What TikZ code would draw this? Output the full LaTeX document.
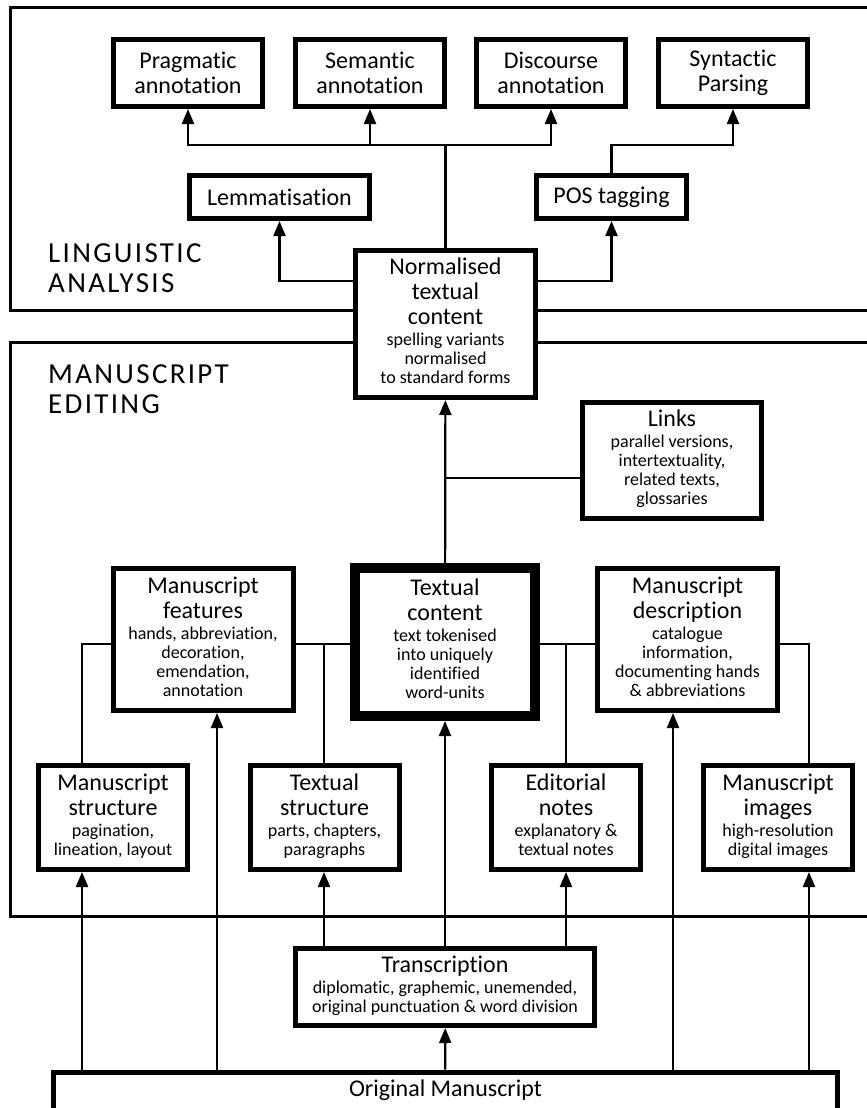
\documentclass[tikz,border=0pt]{standalone}
\usepackage{fontspec}
\setmainfont{Carlito}[Ligatures=NoCommon]
\usetikzlibrary{arrows.meta,positioning}
\newcommand{\detail}[1]{{\fontsize{18}{19}\selectfont
  \begin{tabular}[t]{@{}c@{}}#1\end{tabular}}}

\begin{document}
\begin{tikzpicture}[x=1pt, y=-1pt,
  font=\fontsize{24}{25}\selectfont,
  box/.style = {draw, line width=5pt, fill=white, align=center, inner sep=0pt},
  core/.style = {box, line width=10pt},
  topbox/.style = {box, minimum width=149, minimum height=67},
  lowbox/.style = {box, minimum width=149, minimum height=104},
  midbox/.style = {box, minimum width=180, minimum height=142},
  frame/.style = {line width=3pt},
  title/.style = {align=left, anchor=west, inner sep=0pt,
        font=\fontsize{29}{30}\selectfont\addfontfeature{LetterSpace=8}},
  link/.style = {line width=2.2pt},
  arr/.style = {link, -{Triangle[length=15pt,width=12pt]}}
]
 \useasboundingbox (0,0) rectangle (867,1108);
 % the two areas
 \draw[frame] (10,8) rectangle (890,310);
 \draw[frame] (10,342) rectangle (890,916);
 \node[title] (ling) at (48,268) {LINGUISTIC\\ANALYSIS};
 \node[title] (edit) at (48,389) {MANUSCRIPT\\EDITING};

 % linguistic analysis
 \node[topbox] (prag) at (188,73) {Pragmatic\\annotation};
 \node[topbox] (sem)  at (370,73) {Semantic\\annotation};
 \node[topbox] (disc) at (551,73) {Discourse\\annotation};
 \node[topbox] (synt) at (733,73) {Syntactic\\Parsing};
 \node[box, minimum width=180, minimum height=43] (lemma) at (279.5,197) {Lemmatisation};
 \node[box, minimum width=150, minimum height=43] (pos) at (611.5,197) {POS tagging};
 \node[box, minimum width=180, minimum height=147] (norm) at (445.5,324)
   {Normalised\\textual\\content\\[-4pt]\detail{spelling variants\\normalised\\to standard forms}};

 % manuscript editing
 \node[box, minimum width=179, minimum height=116] (links) at (672,460.5)
   {Links\\[-4pt]\detail{parallel versions,\\intertextuality,\\related texts,\\glossaries}};
 \node[midbox] (feat) at (203,639.5)
   {Manuscript\\features\\[-4pt]\detail{hands, abbreviation,\\decoration,\\emendation,\\annotation}};
 \node[core, minimum width=180, minimum height=148] (text) at (445,642)
   {Textual\\content\\[-4pt]\detail{text tokenised\\into uniquely\\identified\\word-units}};
 \node[midbox] (desc) at (687.5,639.5)
   {Manuscript\\description\\[-4pt]\detail{catalogue\\information,\\documenting hands\\\& abbreviations}};
 \node[lowbox] (mstruct) at (113,817.5)
   {Manuscript\\structure\\[-4pt]\detail{pagination,\\lineation, layout}};
 \node[lowbox] (tstruct) at (324.5,817.5)
   {Textual\\structure\\[-4pt]\detail{parts, chapters,\\paragraphs}};
 \node[lowbox] (ednotes) at (566,817.5)
   {Editorial\\notes\\[-4pt]\detail{explanatory \&\\textual notes}};
 \node[lowbox] (images) at (778,817.5)
   {Manuscript\\images\\[-4pt]\detail{high-resolution\\digital images}};

 % sources
 \node[box, minimum width=299, minimum height=77] (transcr) at (445,987)
   {Transcription\\[-4pt]\detail{diplomatic, graphemic, unemended,\\original punctuation \& word division}};
 \node[box, anchor=north, minimum width=784, inner ysep=8pt,
   text height=16pt, text depth=40pt] (orig) at (445.5,1069.5) {Original Manuscript};

 % bends
 \coordinate (bus) at (445.5,145);
 \coordinate (sbend) at (611.5,145);
 \coordinate (nl) at (279.5,281);
 \coordinate (nr) at (611.5,281);
 \coordinate (lk) at (445.5,478);
 \coordinate (fl) at (82,644);
 \coordinate (fr) at (324,644);
 \coordinate (dl) at (566,644);
 \coordinate (dr) at (809,644);
 \coordinate (fa) at (217,700);
 \coordinate (da) at (673,700);

 % connectors
 \draw[link] (norm) -- (bus);
 \draw[arr] (bus) -| (prag);
 \draw[arr] (bus) -| (sem);
 \draw[arr] (bus) -| (disc);
 \draw[arr] (pos) -- (sbend) -| (synt);
 \draw[arr] (nl -| norm.west) -| (lemma);
 \draw[arr] (nr -| norm.east) -| (pos);
 \draw[arr] (text) -- (norm);
 \draw[link] (lk) -- (lk -| links.west);
 \draw[link] (fl -| feat.west) -- (fl) -- (fl |- mstruct.north);
 \draw[link] (fr -| feat.east) -- (fr -| text.west);
 \draw[link] (fr) -- (fr |- tstruct.north);
 \draw[link] (dl -| text.east) -- (dl -| desc.west);
 \draw[link] (dl) -- (dl |- ednotes.north);
 \draw[link] (dr -| desc.east) -- (dr) -- (dr |- images.north);
 \draw[arr] (fl |- orig.north) -- (fl |- mstruct.south);
 \draw[arr] (fa |- orig.north) -- (fa |- feat.south);
 \draw[arr] (orig) -- (transcr);
 \draw[arr] (da |- orig.north) -- (da |- desc.south);
 \draw[arr] (dr |- orig.north) -- (dr |- images.south);
 \draw[arr] (fr |- transcr.north) -- (fr |- tstruct.south);
 \draw[arr] (transcr) -- (text);
 \draw[arr] (dl |- transcr.north) -- (dl |- ednotes.south);
\end{tikzpicture}
\end{document}
